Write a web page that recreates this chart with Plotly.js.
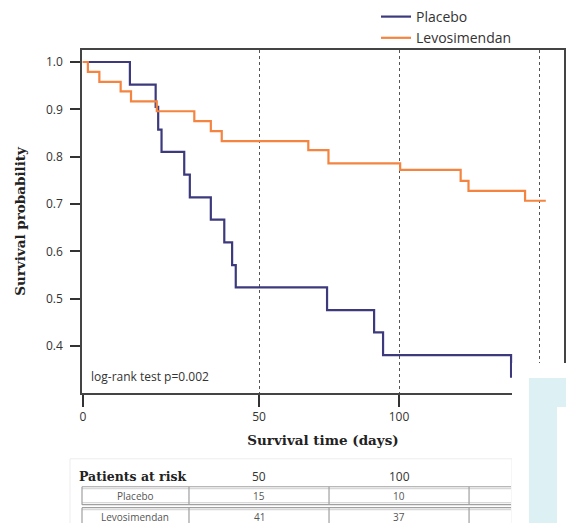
<!DOCTYPE html>
<html><head><meta charset="utf-8">
<script src="https://cdn.plot.ly/plotly-3.0.1.min.js"></script>
<style>html,body{margin:0;padding:0;background:#fff;}</style>
</head><body><div id="chart" style="width:566px;height:523px;"></div>
<script>
// ---- data ----
const startDay = -12.9;
const placeboTimes = [startDay, 3.9, 13.1, 14.0, 15.2, 23.3, 25.3, 32.8, 37.6, 40.4, 41.7, 74.3, 91.1, 94.3, 140];
const placeboSurv  = [1.0, 0.952, 0.905, 0.857, 0.810, 0.762, 0.714, 0.667, 0.619, 0.571, 0.524, 0.476, 0.429, 0.381, 0.333];
const levoTimes = [startDay, -11.1, -7.0, 0.6, 4.3, 13.5, 26.9, 32.8, 36.7, 67.6, 74.8, 100.4, 122.0, 124.8, 145.0, 152.4];
const levoSurv  = [1.0, 0.979, 0.958, 0.938, 0.917, 0.896, 0.875, 0.854, 0.833, 0.814, 0.786, 0.772, 0.749, 0.728, 0.707, 0.707];
const riskTimes = [50, 100];
const riskRowNames = ['Placebo', 'Levosimendan'];
const riskPlacebo = [15, 10];
const riskLevo = [41, 37];
const xTickVals = [startDay, 50, 100, 150];
const xTickText = ['0', '50', '100', '150'];
const yTickVals = [0.4, 0.5, 0.6, 0.7, 0.8, 0.9, 1.0];

// ---- layout geometry ----
const W = 566, H = 523, mL = 82, mR = 2, mT = 49, mB = 130;
const pw = W - mL - mR, ph = H - mT - mB;
const xRange = [-13.2, 158.9];
const yRange = [0.301, 1.0253];
const px = p => (p - mL) / pw;              // pixel -> paper x
const py = p => (H - mB - p) / ph;          // pixel -> paper y
const xPaper = v => (v - xRange[0]) / (xRange[1] - xRange[0]);

const sans = 'Open Sans, sans-serif';
const serif = 'DejaVu Serif, serif';

const traces = [
  {x: placeboTimes, y: placeboSurv, name: 'Placebo', mode: 'lines',
   line: {shape: 'hv', color: '#3c3a7c', width: 2.2}},
  {x: levoTimes, y: levoSurv, name: 'Levosimendan', mode: 'lines',
   line: {shape: 'hv', color: '#f4843f', width: 2.2}}
];

const shapes = [];
const annotations = [];
const tableLine = '#a0a0a0';
const tableLine2 = '#d8d8d8';

// risk table frame
shapes.push({type: 'rect', xref: 'paper', yref: 'paper', x0: px(70), x1: px(512), y0: py(459), y1: py(530),
  line: {color: '#ededed', width: 1}, fillcolor: 'rgba(0,0,0,0)'});
const rowTops = [487, 508];
const rowBots = [505, 526];
const step = riskTimes[1] - riskTimes[0];
const seps = [px(82)];
for (let i = 0; i <= riskTimes.length; i++) {
  const mid = i === 0 ? riskTimes[0] - step / 2 : riskTimes[i - 1] + step / 2;
  seps.push(xPaper(mid));
}
rowTops.forEach((t, r) => {
  const b = rowBots[r];
  [[t, tableLine], [t + 2, tableLine2], [b - 2, tableLine2], [b, tableLine]].forEach(([yy, c]) => {
    shapes.push({type: 'line', xref: 'paper', yref: 'paper', x0: px(82), x1: px(511), y0: py(yy), y1: py(yy),
      line: {color: c, width: 1.2}});
  });
  seps.forEach(sx => {
    shapes.push({type: 'line', xref: 'paper', yref: 'paper', x0: sx, x1: sx, y0: py(t), y1: py(b),
      line: {color: tableLine, width: 1.2}});
  });
  annotations.push({xref: 'paper', yref: 'paper', x: (seps[0] + seps[1]) / 2, y: py((t + b) / 2 + 0.5),
    xanchor: 'center', yanchor: 'middle',
    text: riskRowNames[r], showarrow: false, font: {family: sans, size: 10, color: '#555'}});
  const vals = r === 0 ? riskPlacebo : riskLevo;
  riskTimes.forEach((tt, i) => {
    annotations.push({xref: 'x', yref: 'paper', x: tt, y: py((t + b) / 2 + 0.5), xanchor: 'center', yanchor: 'middle',
      text: String(vals[i]), showarrow: false, font: {family: sans, size: 10, color: '#555'}});
  });
});
annotations.push({xref: 'paper', yref: 'paper', x: px(77), y: py(477), xanchor: 'left', yanchor: 'middle',
  text: '<b>Patients at risk</b>', showarrow: false, font: {family: serif, size: 12.5, color: '#222'}});
riskTimes.forEach(tt => {
  annotations.push({xref: 'x', yref: 'paper', x: tt, y: py(477), xanchor: 'center', yanchor: 'middle',
    text: String(tt), showarrow: false, font: {family: sans, size: 12, color: '#333'}});
});
annotations.push({xref: 'paper', yref: 'paper', x: px(89), y: py(376), xanchor: 'left', yanchor: 'middle',
  text: 'log-rank test p=0.002', showarrow: false, font: {family: sans, size: 12, color: '#333'}});

// overlay covering the lower-right corner
shapes.push({type: 'rect', xref: 'paper', yref: 'paper', x0: px(512), x1: px(570), y0: py(363), y1: py(530),
  line: {width: 0}, fillcolor: '#ffffff', layer: 'above'});
shapes.push({type: 'rect', xref: 'paper', yref: 'paper', x0: px(529), x1: px(570), y0: py(378), y1: py(530),
  line: {width: 0}, fillcolor: '#ddf0f4', layer: 'above'});
shapes.push({type: 'rect', xref: 'paper', yref: 'paper', x0: px(557), x1: px(570), y0: py(407), y1: py(530),
  line: {width: 0}, fillcolor: '#ffffff', layer: 'above'});

const layout = {
  width: W, height: H,
  margin: {l: mL, r: mR, t: mT, b: mB, pad: 0},
  paper_bgcolor: '#fff', plot_bgcolor: '#fff',
  font: {family: sans, color: '#333'},
  showlegend: true,
  legend: {x: px(376), y: py(1), xanchor: 'left', yanchor: 'top', font: {family: sans, size: 14, color: '#333'},
    bgcolor: 'rgba(0,0,0,0)', tracegroupgap: 0},
  xaxis: {range: xRange, tickvals: xTickVals, ticktext: xTickText, ticks: 'outside', ticklen: 12,
    tickwidth: 1.5, tickcolor: '#333', showline: true, linecolor: '#444', linewidth: 1.5, mirror: true,
    showgrid: true, gridcolor: '#555', griddash: 'dot', gridwidth: 1, zeroline: false,
    tickfont: {family: sans, size: 12, color: '#333'},
    title: {text: '<b>Survival time (days)</b>', font: {family: serif, size: 13.5, color: '#222'}, standoff: 11}},
  yaxis: {range: yRange, tickvals: yTickVals, tickformat: '.1f', ticks: 'outside', ticklen: 10,
    tickwidth: 1.5, tickcolor: '#333', showline: true, linecolor: '#444', linewidth: 1.5, mirror: true,
    showgrid: false, zeroline: false, ticklabelstandoff: 5,
    tickfont: {family: sans, size: 12, color: '#333'},
    title: {text: '<b>Survival probability</b>', font: {family: serif, size: 13.5, color: '#222'}, standoff: 17}},
  shapes: shapes,
  annotations: annotations
};

Plotly.newPlot('chart', traces, layout, {displayModeBar: false, responsive: false});
</script></body></html>
